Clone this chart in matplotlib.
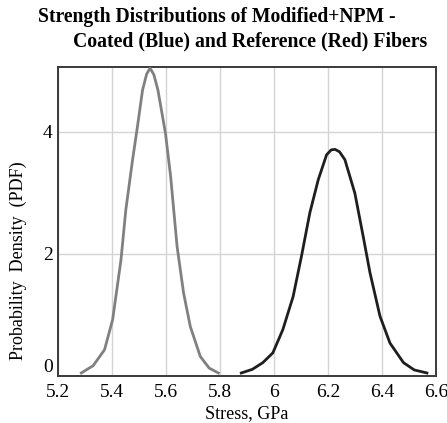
import numpy as np
import matplotlib.pyplot as plt

plt.rcParams['font.family'] = ['Liberation Serif', 'DejaVu Serif']

# values
coated_x = [5.286, 5.33, 5.372, 5.402, 5.433, 5.451, 5.476, 5.494, 5.513, 5.528, 5.541,
            5.555, 5.570, 5.598, 5.617, 5.641, 5.665, 5.690, 5.727, 5.76, 5.794]
coated_y = [0.05, 0.17, 0.43, 0.92, 1.90, 2.72, 3.54, 4.08, 4.68, 4.94, 5.04,
            4.93, 4.68, 3.97, 3.27, 2.12, 1.36, 0.81, 0.32, 0.13, 0.05]

ref_x = [5.879, 5.92, 5.959, 5.996, 6.033, 6.071, 6.102, 6.133, 6.164, 6.195, 6.212, 6.226,
         6.243, 6.263, 6.300, 6.331, 6.356, 6.393, 6.430, 6.480, 6.52, 6.567]
ref_y = [0.05, 0.11, 0.22, 0.38, 0.76, 1.30, 1.96, 2.67, 3.21, 3.62, 3.70, 3.71,
         3.67, 3.54, 2.99, 2.28, 1.69, 0.98, 0.54, 0.22, 0.10, 0.05]

x_ticks = [5.2, 5.4, 5.6, 5.8, 6.0, 6.2, 6.4, 6.6]
x_labels = ['5.2', '5.4', '5.6', '5.8', '6', '6.2', '6.4', '6.6']
y_ticks = [0, 2, 4]

fig = plt.figure(figsize=(4.47, 4.23), dpi=100)
ax = fig.add_axes([0.130, 0.111, 0.845, 0.731])

ax.plot(coated_x, coated_y, color='#808080', lw=2.0, zorder=3)
ax.plot(ref_x, ref_y, color='#1e1e1e', lw=2.0, zorder=3)

ax.set_xlim(5.2, 6.6)
ax.set_ylim(0, 5.06)
ax.set_xticks(x_ticks)
ax.set_xticklabels(x_labels)
ax.set_yticks(y_ticks)
ax.grid(True, color='#d4d4d4', lw=1.0)
ax.tick_params(axis='x', length=0, labelsize=14, pad=5.5)
ax.tick_params(axis='y', length=0, labelsize=14, pad=4)
ax.get_yticklabels()[0].set_va('bottom')
for s in ax.spines.values():
    s.set_color('#3a3a3a')
    s.set_linewidth(1.4)

ax.set_xlabel('Stress, GPa', fontsize=13, labelpad=3)
ax.set_ylabel('Probability  Density  (PDF)', fontsize=13)
ax.yaxis.set_label_coords(-0.082, 0.372)

fig.text(38 / 447, 1 - 22 / 423, 'Strength Distributions of Modified+NPM -',
         fontsize=14.1, fontweight='bold', ha='left', va='baseline')
fig.text(73 / 447, 1 - 46.5 / 423, 'Coated (Blue) and Reference (Red) Fibers',
         fontsize=14.2, fontweight='bold', ha='left', va='baseline')

fig.savefig('out.png', dpi=100)
